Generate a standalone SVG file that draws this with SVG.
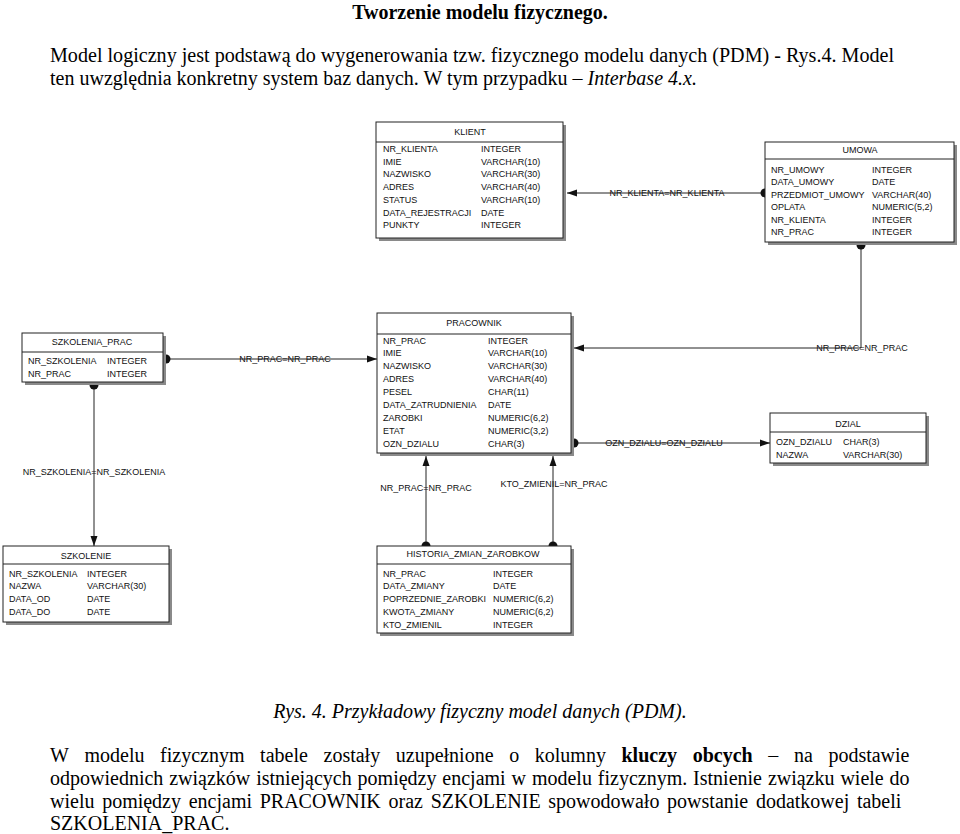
<svg xmlns="http://www.w3.org/2000/svg" width="960" height="834" viewBox="0 0 960 834">
<style>
.doc{font-family:"Liberation Serif","Times New Roman",serif;font-size:20px;fill:#000}
.b{font-weight:bold}
.i{font-style:italic}
.t{font-family:"Liberation Sans",Arial,sans-serif;font-size:9px;fill:#111}
.box{fill:#fff;stroke:#222;stroke-width:1}
.sh{fill:#8a8a8a}
.sep{stroke:#222;stroke-width:1}
.c{fill:none;stroke:#222;stroke-width:1}
.lbl{font-family:"Liberation Sans",Arial,sans-serif;font-size:9px;fill:#111;text-anchor:middle}
.ttl{text-anchor:middle}
</style>
<defs>
<marker id="arr" markerUnits="userSpaceOnUse" markerWidth="12" markerHeight="10" viewBox="0 0 12 10" refX="11" refY="5" orient="auto">
<path d="M1,1.5 L11,5 L1,8.5 Z" fill="#111"/>
</marker>
<marker id="dot" markerUnits="userSpaceOnUse" markerWidth="12" markerHeight="12" viewBox="-6 -6 12 12" refX="0" refY="0" orient="auto" overflow="visible">
<path d="M0,-4.5 A4.5,4.5 0 0 1 0,4.5 Z" fill="#111"/>
</marker>
</defs>

<text class="doc b" x="480" y="19" text-anchor="middle">Tworzenie modelu fizycznego.</text>
<text class="doc" x="50" y="61.5" textLength="844" lengthAdjust="spacingAndGlyphs">Model logiczny jest podstawą do wygenerowania tzw. fizycznego modelu danych (PDM) - Rys.4. Model</text>
<text class="doc" x="50" y="84.5">ten uwzględnia konkretny system baz danych. W tym przypadku – <tspan class="i">Interbase 4.x.</tspan></text>

<g id="connectors">
<line class="c" x1="765" y1="193" x2="567" y2="193" marker-start="url(#dot)" marker-end="url(#arr)"/>
<path class="c" d="M861,245 V348 H574" marker-start="url(#dot)" marker-end="url(#arr)"/>
<line class="c" x1="166" y1="359" x2="377" y2="359" marker-start="url(#dot)" marker-end="url(#arr)"/>
<line class="c" x1="94" y1="385" x2="94" y2="546" marker-start="url(#dot)" marker-end="url(#arr)"/>
<line class="c" x1="426" y1="546" x2="426" y2="456" marker-start="url(#dot)" marker-end="url(#arr)"/>
<line class="c" x1="553" y1="546" x2="553" y2="456" marker-start="url(#dot)" marker-end="url(#arr)"/>
<line class="c" x1="574" y1="443" x2="770" y2="443" marker-start="url(#dot)" marker-end="url(#arr)"/>
<text class="lbl" x="667" y="196">NR_KLIENTA=NR_KLIENTA</text>
<text class="lbl" x="862" y="351">NR_PRAC=NR_PRAC</text>
<text class="lbl" x="285" y="362">NR_PRAC=NR_PRAC</text>
<text class="lbl" x="94" y="475">NR_SZKOLENIA=NR_SZKOLENIA</text>
<text class="lbl" x="426" y="491">NR_PRAC=NR_PRAC</text>
<text class="lbl" x="554" y="487">KTO_ZMIENIL=NR_PRAC</text>
<text class="lbl" x="664" y="446">OZN_DZIALU=OZN_DZIALU</text>
</g>

<g id="klient">
<rect class="sh" x="379" y="125" width="187" height="116"/>
<rect class="box" x="376" y="122" width="187" height="116"/>
<line class="sep" x1="376" y1="142" x2="563" y2="142"/>
<text class="t ttl" x="470" y="134.5">KLIENT</text>
<text class="t" x="383" y="152">NR_KLIENTA</text><text class="t" x="481" y="152">INTEGER</text>
<text class="t" x="383" y="164.7">IMIE</text><text class="t" x="481" y="164.7">VARCHAR(10)</text>
<text class="t" x="383" y="177.4">NAZWISKO</text><text class="t" x="481" y="177.4">VARCHAR(30)</text>
<text class="t" x="383" y="190.1">ADRES</text><text class="t" x="481" y="190.1">VARCHAR(40)</text>
<text class="t" x="383" y="202.8">STATUS</text><text class="t" x="481" y="202.8">VARCHAR(10)</text>
<text class="t" x="383" y="215.5">DATA_REJESTRACJI</text><text class="t" x="481" y="215.5">DATE</text>
<text class="t" x="383" y="228.2">PUNKTY</text><text class="t" x="481" y="228.2">INTEGER</text>
</g>

<g id="umowa">
<rect class="sh" x="768" y="145" width="189" height="100"/>
<rect class="box" x="765" y="142" width="189" height="100"/>
<line class="sep" x1="765" y1="159" x2="954" y2="159"/>
<text class="t ttl" x="860" y="153">UMOWA</text>
<text class="t" x="771" y="172.5">NR_UMOWY</text><text class="t" x="872" y="172.5">INTEGER</text>
<text class="t" x="771" y="185">DATA_UMOWY</text><text class="t" x="872" y="185">DATE</text>
<text class="t" x="771" y="197.5">PRZEDMIOT_UMOWY</text><text class="t" x="872" y="197.5">VARCHAR(40)</text>
<text class="t" x="771" y="210">OPLATA</text><text class="t" x="872" y="210">NUMERIC(5,2)</text>
<text class="t" x="771" y="222.5">NR_KLIENTA</text><text class="t" x="872" y="222.5">INTEGER</text>
<text class="t" x="771" y="235">NR_PRAC</text><text class="t" x="872" y="235">INTEGER</text>
</g>

<g id="szkolenia_prac">
<rect class="sh" x="25" y="336" width="141" height="49"/>
<rect class="box" x="22" y="333" width="141" height="49"/>
<line class="sep" x1="22" y1="352" x2="163" y2="352"/>
<text class="t ttl" x="92" y="344.5">SZKOLENIA_PRAC</text>
<text class="t" x="28" y="363.5">NR_SZKOLENIA</text><text class="t" x="107" y="363.5">INTEGER</text>
<text class="t" x="28" y="376.5">NR_PRAC</text><text class="t" x="107" y="376.5">INTEGER</text>
</g>

<g id="pracownik">
<rect class="sh" x="380" y="316" width="194" height="140"/>
<rect class="box" x="377" y="313" width="194" height="140"/>
<line class="sep" x1="377" y1="334" x2="571" y2="334"/>
<text class="t ttl" x="474" y="325.5">PRACOWNIK</text>
<text class="t" x="383" y="343.5">NR_PRAC</text><text class="t" x="488" y="343.5">INTEGER</text>
<text class="t" x="383" y="356.4">IMIE</text><text class="t" x="488" y="356.4">VARCHAR(10)</text>
<text class="t" x="383" y="369.2">NAZWISKO</text><text class="t" x="488" y="369.2">VARCHAR(30)</text>
<text class="t" x="383" y="382.1">ADRES</text><text class="t" x="488" y="382.1">VARCHAR(40)</text>
<text class="t" x="383" y="395">PESEL</text><text class="t" x="488" y="395">CHAR(11)</text>
<text class="t" x="383" y="407.9">DATA_ZATRUDNIENIA</text><text class="t" x="488" y="407.9">DATE</text>
<text class="t" x="383" y="420.7">ZAROBKI</text><text class="t" x="488" y="420.7">NUMERIC(6,2)</text>
<text class="t" x="383" y="433.6">ETAT</text><text class="t" x="488" y="433.6">NUMERIC(3,2)</text>
<text class="t" x="383" y="446.5">OZN_DZIALU</text><text class="t" x="488" y="446.5">CHAR(3)</text>
</g>

<g id="dzial">
<rect class="sh" x="773" y="416" width="156" height="50"/>
<rect class="box" x="770" y="413" width="156" height="50"/>
<line class="sep" x1="770" y1="432" x2="926" y2="432"/>
<text class="t ttl" x="848" y="426.5">DZIAL</text>
<text class="t" x="776" y="444.5">OZN_DZIALU</text><text class="t" x="843" y="444.5">CHAR(3)</text>
<text class="t" x="776" y="457.5">NAZWA</text><text class="t" x="843" y="457.5">VARCHAR(30)</text>
</g>

<g id="szkolenie">
<rect class="sh" x="6" y="549" width="166" height="76"/>
<rect class="box" x="3" y="546" width="166" height="76"/>
<line class="sep" x1="3" y1="564" x2="169" y2="564"/>
<text class="t ttl" x="86" y="558.5">SZKOLENIE</text>
<text class="t" x="9" y="576.5">NR_SZKOLENIA</text><text class="t" x="87" y="576.5">INTEGER</text>
<text class="t" x="9" y="589.3">NAZWA</text><text class="t" x="87" y="589.3">VARCHAR(30)</text>
<text class="t" x="9" y="602">DATA_OD</text><text class="t" x="87" y="602">DATE</text>
<text class="t" x="9" y="614.8">DATA_DO</text><text class="t" x="87" y="614.8">DATE</text>
</g>

<g id="historia_zmian_zarobkow">
<rect class="sh" x="380" y="549" width="194" height="87"/>
<rect class="box" x="377" y="546" width="194" height="87"/>
<line class="sep" x1="377" y1="564" x2="571" y2="564"/>
<text class="t ttl" x="473" y="557">HISTORIA_ZMIAN_ZAROBKOW</text>
<text class="t" x="383" y="576.5">NR_PRAC</text><text class="t" x="493" y="576.5">INTEGER</text>
<text class="t" x="383" y="589.3">DATA_ZMIANY</text><text class="t" x="493" y="589.3">DATE</text>
<text class="t" x="383" y="602">POPRZEDNIE_ZAROBKI</text><text class="t" x="493" y="602">NUMERIC(6,2)</text>
<text class="t" x="383" y="614.8">KWOTA_ZMIANY</text><text class="t" x="493" y="614.8">NUMERIC(6,2)</text>
<text class="t" x="383" y="627.6">KTO_ZMIENIL</text><text class="t" x="493" y="627.6">INTEGER</text>
</g>

<text class="doc i" x="480" y="717.5" text-anchor="middle">Rys. 4. Przykładowy fizyczny model danych (PDM).</text>
<text class="doc" y="762"><tspan x="50">W</tspan><tspan x="84.5">modelu</tspan><tspan x="160.1">fizycznym</tspan><tspan x="260.1">tabele</tspan><tspan x="323.5">zostały</tspan><tspan x="395.8">uzupełnione</tspan><tspan x="509.2">o</tspan><tspan x="534.8">kolumny</tspan><tspan x="621.5" class="b">kluczy</tspan><tspan x="692.7" class="b">obcych</tspan><tspan x="768.3">–</tspan><tspan x="793.9">na</tspan><tspan x="828.4">podstawie</tspan></text>
<text class="doc" x="50" y="785" word-spacing="0.9">odpowiednich związków istniejących pomiędzy encjami w modelu fizycznym. Istnienie związku wiele do</text>
<text class="doc" x="50" y="808" word-spacing="2.7">wielu pomiędzy encjami PRACOWNIK oraz SZKOLENIE spowodowało powstanie dodatkowej tabeli</text>
<text class="doc" x="50" y="829.5">SZKOLENIA_PRAC.</text>
</svg>
